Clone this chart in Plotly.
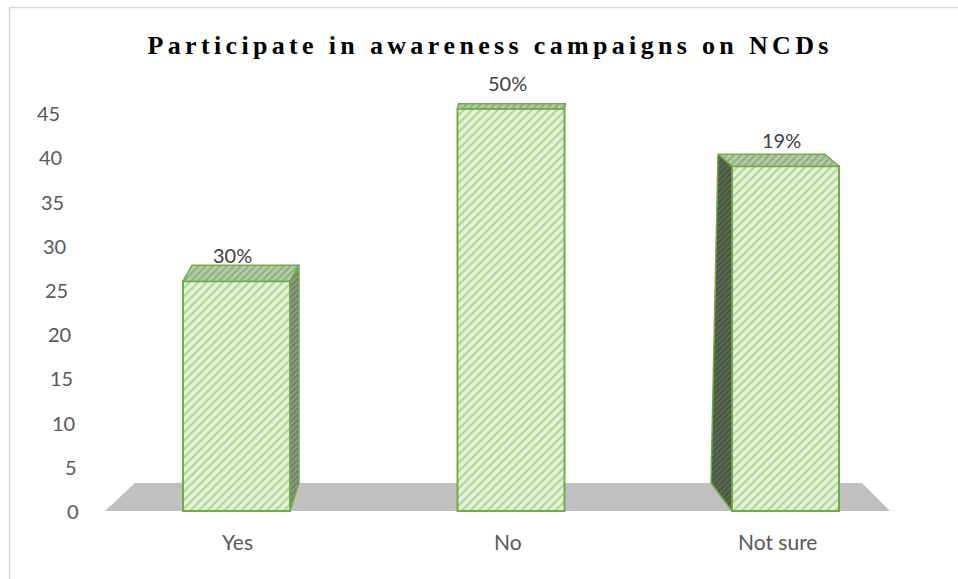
import plotly.graph_objects as go

# ---- data ----
categories = ["Yes", "No", "Not sure"]
counts = [26, 45.5, 39]
pct_labels = ["30%", "50%", "19%"]
y_ticks = [0, 5, 10, 15, 20, 25, 30, 35, 40, 45]

# ---- canvas / scale set-up (pixels) ----
W, H = 958, 579
ML, MR, MT, MB = 30, 8, 60, 30
X0_PX, X_STEP = 236.5, 274.5     # pixel of first category, pixels per category
Y0_PX, Y_STEP = 511.0, 8.84      # pixel of value 0, pixels per unit

plot_w = W - ML - MR
plot_h = H - MT - MB
x_lo = (ML - X0_PX) / X_STEP
x_hi = x_lo + plot_w / X_STEP
y_lo = (Y0_PX - (H - MB)) / Y_STEP
y_hi = (Y0_PX - MT) / Y_STEP


def ddx(p):
    return p / X_STEP


def ddy(p):
    return -p / Y_STEP


def px2x(p):
    return (p - X0_PX) / X_STEP


def paper_x(p):
    return (p - ML) / plot_w


def paper_y(p):
    return (H - MB - p) / plot_h


BAR_W = 107 / X_STEP
GREEN = "#70ad47"
FONT = "Lato"

# perspective offsets of each bar's back edges (pixels): top and bottom
top_off = [(9, -16), (1, -5), (-14, -12)]
bot_off = [(9, -28), (0, -28), (-21, -28)]
side = ["right", None, "left"]
cat_shift = [1, -3, -8]

xs = list(range(len(categories)))

fig = go.Figure()

# front faces
fig.add_trace(go.Bar(
    x=xs, y=counts, width=BAR_W,
    marker=dict(
        color="#e4f3d8",
        line=dict(color=GREEN, width=2),
        pattern=dict(shape="/", fgcolor="#76b350", bgcolor="#e4f3d8",
                     size=6, solidity=0.35, fillmode="overlay"),
    ),
    hoverinfo="skip", showlegend=False,
))

# top and side faces
for i, v in enumerate(counts):
    xl, xr = xs[i] - BAR_W / 2, xs[i] + BAR_W / 2
    tdx, tdy = ddx(top_off[i][0]), ddy(top_off[i][1])
    bdx, bdy = ddx(bot_off[i][0]), ddy(bot_off[i][1])
    fig.add_trace(go.Scatter(
        x=[xl, xr, xr + tdx, xl + tdx, xl],
        y=[v, v, v + tdy, v + tdy, v],
        mode="lines", fill="toself", fillcolor="#aac49c",
        fillpattern=dict(shape="/", fgcolor="#6d8a5b", bgcolor="#b3cba6",
                         size=5, solidity=0.4),
        line=dict(color=GREEN, width=1.5),
        hoverinfo="skip", showlegend=False,
    ))
    if side[i] is not None:
        xe = xr if side[i] == "right" else xl
        dark = side[i] == "left"
        fig.add_trace(go.Scatter(
            x=[xe, xe, xe + tdx, xe + bdx, xe],
            y=[0, v, v + tdy, bdy, 0],
            mode="lines", fill="toself",
            fillpattern=dict(shape="/",
                             fgcolor="#2e3a28" if dark else "#4f6046",
                             bgcolor="#5b6b52" if dark else "#8a9b80",
                             size=4, solidity=0.45),
            line=dict(color=GREEN, width=1.5),
            hoverinfo="skip", showlegend=False,
        ))

# floor
floor_depth = ddy(-28)
fx = [px2x(105), px2x(135), px2x(862), px2x(890)]
floor_path = (f"M {fx[0]} 0 L {fx[1]} {floor_depth} L {fx[2]} {floor_depth} "
              f"L {fx[3]} 0 Z")
shapes = [
    dict(type="path", path=floor_path, xref="x", yref="y",
         fillcolor="#c0c0c0", line=dict(width=0), layer="below"),
    # chart frame (left and top edges)
    dict(type="line", xref="paper", yref="paper",
         x0=paper_x(9.5), x1=paper_x(9.5), y0=paper_y(7.5), y1=paper_y(600),
         line=dict(color="#d9d9d9", width=1.5)),
    dict(type="line", xref="paper", yref="paper",
         x0=paper_x(9.5), x1=paper_x(990), y0=paper_y(7.5), y1=paper_y(7.5),
         line=dict(color="#d9d9d9", width=1.5)),
]

annotations = []
# value-axis labels, drawn on the slanted back wall
for t in y_ticks:
    annotations.append(dict(
        x=px2x(81 - t * 19 / 45), y=t, xref="x", yref="y",
        text=str(t), showarrow=False, xanchor="right", yanchor="middle",
        font=dict(family=FONT, size=20, color="#595959"),
    ))
# category labels
for i, c in enumerate(categories):
    annotations.append(dict(
        x=xs[i], y=0, xref="x", yref="y", yshift=-30, xshift=cat_shift[i],
        text=c, showarrow=False, xanchor="center", yanchor="middle",
        font=dict(family=FONT, size=21, color="#595959"),
    ))
# data labels
for i, v in enumerate(counts):
    annotations.append(dict(
        x=xs[i], y=v, xref="x", yref="y", yshift=12, xshift=-4,
        text=pct_labels[i], showarrow=False, xanchor="center", yanchor="bottom",
        font=dict(family=FONT, size=20, color="#404040"),
    ))

title_text = "\u2006".join("Participate in awareness campaigns on NCDs")

fig.update_layout(
    width=W, height=H,
    margin=dict(l=ML, r=MR, t=MT, b=MB),
    paper_bgcolor="white", plot_bgcolor="white",
    title=dict(text=title_text, xref="container", yref="container",
               x=488 / W, y=1 - 45 / H, xanchor="center", yanchor="middle",
               font=dict(family="Liberation Serif", size=26, color="black",
                         weight="bold")),
    xaxis=dict(range=[x_lo, x_hi], visible=False, fixedrange=True),
    yaxis=dict(range=[y_lo, y_hi], visible=False, fixedrange=True),
    shapes=shapes, annotations=annotations,
    showlegend=False,
)

fig.write_html("out.html")
